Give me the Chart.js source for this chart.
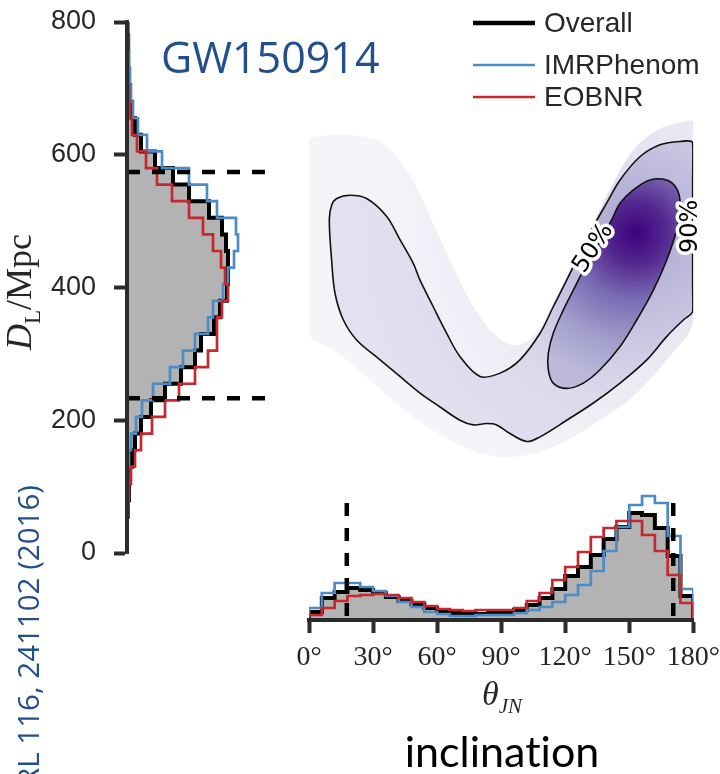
<!DOCTYPE html>
<html>
<head>
<meta charset="utf-8">
<script src="https://cdn.jsdelivr.net/npm/chart.js@4.4.1/dist/chart.umd.min.js"></script>
<style>
  html, body { margin: 0; padding: 0; background: #fff; }
  #page { position: relative; width: 720px; height: 774px; overflow: hidden; background: #fff; }
  canvas { position: absolute; }
  .txt { position: absolute; white-space: nowrap; line-height: 1; }
</style>
</head>
<body>
<div id="page">
  <canvas id="distHist" style="left:0px;top:0px" width="300" height="570"></canvas>
  <canvas id="density" style="left:300px;top:0px" width="420" height="570"></canvas>
  <canvas id="incHist" style="left:280px;top:470px" width="440" height="210"></canvas>

  <div class="txt" style="left:161px;top:27px;font:43px 'Open Sans';color:#23508c">GW150914</div>
  <div class="txt" style="left:22px;top:292px;transform:translate(-50%,-50%) rotate(-90deg);font:36px 'Liberation Serif';color:#262626"><i>D</i><sub style="font-size:23px">L</sub>/Mpc</div>
  <div class="txt" style="left:7px;top:885px;width:400px;text-align:right;transform-origin:top left;transform:rotate(-90deg);font:29.5px 'Open Sans';color:#23508c">PRL 116, 241102 (2016)</div>
  <div class="txt" style="left:502px;top:675px;transform:translateX(-50%);font:italic 34px 'Liberation Serif';color:#262626">&theta;<sub style="font-size:21px">JN</sub></div>
  <div class="txt" style="left:502px;top:725px;transform:translateX(-50%);font:43px Lato;font-variant-ligatures:none;color:#000">inclination</div>
</div>
<script>
// ---- series ----
const seriesNames = ['Overall', 'IMRPhenom', 'EOBNR'];
const seriesColors = ['#000000', '#4b8bc6', '#c7282d'];

// luminosity distance marginal (bin edges in Mpc, bar lengths)
const distEdges = [55, 80, 105, 130, 155, 180, 205, 230, 255, 280, 305, 330, 355, 380, 405,
                   430, 455, 480, 505, 530, 555, 580, 605, 630, 655, 680, 705, 730, 755, 780, 805];
const distOverall = [1, 2, 3, 5, 8, 14, 24, 38, 54, 68, 74, 87, 93, 100, 101,
                     101, 99, 95, 82, 62, 46, 28, 14, 8, 5, 3, 2, 1.5, 1, 0.5];
const distImr = [1, 1, 1.5, 2, 4, 9, 15, 26, 43, 56, 68, 81, 86, 96, 101,
                 107, 111, 109, 90, 80, 62, 35, 20, 11, 6, 4, 3, 2, 1.5, 1];
const distEob = [1, 2, 4, 8, 14, 25, 38, 52, 68, 81, 90, 90, 95, 101, 98,
                 94, 86, 76, 62, 45, 30, 19, 10, 5, 3, 2, 1, 1, 0.5, 0.3];
const distBounds = [233, 574];
const distTicks = [0, 200, 400, 600, 800];

// inclination marginal (degrees)
const incEdges = [0, 6, 12, 18, 24, 30, 36, 42, 48, 54, 60, 66, 72, 78, 84, 90,
                  96, 102, 108, 114, 120, 126, 132, 138, 144, 150, 156, 162, 168, 174, 180];
const incOverall = [8, 22, 28, 32, 30, 27, 23, 19, 16, 12, 9, 7, 7, 6, 7,
                    8, 10, 15, 22, 31, 44, 53, 65, 81, 93, 107, 105, 92, 64, 24];
const incImr = [12, 27, 37, 37, 33, 29, 24, 18, 13, 8, 6, 4, 4, 5, 5,
                5, 7, 10, 13, 18, 25, 35, 49, 69, 93, 115, 124, 117, 84, 31];
const incEob = [5, 12, 19, 24, 25, 26, 25, 22, 18, 14, 11, 10, 9, 10, 10,
                10, 12, 19, 27, 40, 53, 68, 83, 92, 99, 99, 85, 69, 45, 17];
const incBounds = [17.7, 170.6];
const incTicks = [0, 30, 60, 90, 120, 150, 180];

// joint density: [theta, D_L] outlines
const outerRegion = [[0, 625], [11.4, 630], [23.9, 628], [34.8, 617], [45.8, 577], [56.7, 507], [66, 441],
  [77, 371], [86.3, 331], [95.7, 313], [105.1, 326], [114.4, 376], [123.8, 436], [133.2, 497], [142.5, 557],
  [151.9, 607], [162.9, 637], [172.2, 647], [180, 648], [180, 351], [167.5, 291], [151.9, 236], [136.3, 200],
  [120.7, 170], [105.1, 150], [89.5, 145], [73.9, 158], [58.2, 185], [42.6, 220], [27, 266], [11.4, 306],
  [0, 331], [0, 625]];
const contour90 = [[179.7, 490], [179.7, 443], [179.7, 400], [179.7, 364], [175.3, 351], [167.5, 326],
  [158.2, 291], [145.7, 256], [133.2, 226], [120.7, 200], [108.2, 175], [102, 168], [94.1, 180], [87.9, 193],
  [83.2, 195], [77, 193], [70.7, 200], [61.4, 220], [52, 241], [42.6, 266], [33.3, 291], [22.3, 321],
  [16.1, 351], [12.2, 391], [10.6, 441], [9.5, 502], [10.6, 524], [13, 534], [19.2, 539], [27, 534],
  [36.4, 507], [42.6, 472], [48.9, 436], [52, 411], [58.2, 371], [64.5, 331], [70.7, 296], [80.1, 266],
  [89.5, 271], [98.8, 291], [108.2, 331], [114.4, 371], [120.7, 411], [126.9, 452], [133.2, 492],
  [139.4, 527], [145.7, 562], [155, 597], [164.4, 615], [173.8, 620], [179.7, 618], [179.7, 560], [179.7, 490]];
const contour50 = [[141.8, 502], [145.7, 527], [151.9, 547], [159.7, 562], [167.5, 562], [172.2, 549],
  [173.8, 527], [172.2, 487], [167.5, 441], [161.3, 396], [153.5, 351], [145.7, 311], [136.3, 276],
  [128.5, 256], [120.7, 248], [114.4, 256], [112.1, 276], [112.1, 301], [114.4, 331], [119.1, 366],
  [123.8, 396], [127.7, 421], [134.8, 462], [141.8, 502]];
const densityPeak = [153, 482];
const contourLabels = [
  { text: '50%', theta: 133.2, dist: 459, angle: -57 },
  { text: '90%', theta: 178.6, dist: 492, angle: -90 }
];

// ---- helpers ----
function sideSteps(widths) {
  const pts = [{ x: 0, y: distEdges[0] }];
  widths.forEach((w, i) => {
    pts.push({ x: w, y: distEdges[i] }, { x: w, y: distEdges[i + 1] });
  });
  pts.push({ x: 0, y: distEdges[distEdges.length - 1] });
  return pts;
}

// point i sits on the left edge of bin i; stepped 'before' holds it until the next edge
function upSteps(heights) {
  const pts = [{ x: incEdges[0], y: 0 }];
  heights.forEach((h, i) => pts.push({ x: incEdges[i], y: h }));
  pts.push({ x: incEdges[incEdges.length - 1], y: 0 });
  return pts;
}

function toPoints(list) {
  return list.map(p => ({ x: p[0], y: p[1] }));
}

function radialFill(stops, radius) {
  return function (context) {
    const chart = context.chart;
    if (!chart.chartArea) return stops[stops.length - 1][1];
    const cx = chart.scales.x.getPixelForValue(densityPeak[0]);
    const cy = chart.scales.y.getPixelForValue(densityPeak[1]);
    const g = chart.ctx.createRadialGradient(cx, cy, 0, cx, cy, radius);
    stops.forEach(s => g.addColorStop(s[0], s[1]));
    return g;
  };
}

// keep the plot areas where the figure has them: no extra room for overhanging tick labels
function noOverhang(s) {
  s.paddingTop = 0; s.paddingBottom = 0; s.paddingLeft = 0; s.paddingRight = 0;
}

Chart.defaults.font.family = "'Liberation Sans', Arial, sans-serif";
Chart.defaults.animation = false;
Chart.defaults.events = [];
Chart.defaults.plugins.legend.display = false;
Chart.defaults.plugins.tooltip.enabled = false;
Chart.defaults.elements.point.radius = 0;

const axisColor = '#2b2b2b';
const histGray = '#b3b3b3';
const dashed = { borderColor: '#000', borderWidth: 4.5, borderDash: [13, 12], fill: false };

// ---- left marginal: luminosity distance ----
new Chart(document.getElementById('distHist'), {
  type: 'line',
  data: {
    datasets: [
      { label: seriesNames[0], data: sideSteps(distOverall), borderColor: seriesColors[0], borderWidth: 4,
        fill: 'origin', backgroundColor: histGray, order: 4 },
      { label: seriesNames[1], data: sideSteps(distImr), borderColor: seriesColors[1], borderWidth: 2.7, fill: false, order: 3 },
      { label: seriesNames[2], data: sideSteps(distEob), borderColor: seriesColors[2], borderWidth: 2.7, fill: false, order: 2 },
      Object.assign({ data: [{ x: 0, y: distBounds[0] }, { x: 145, y: distBounds[0] }], order: 1 }, dashed),
      Object.assign({ data: [{ x: 0, y: distBounds[1] }, { x: 145, y: distBounds[1] }], order: 1 }, dashed)
    ]
  },
  options: {
    responsive: false,
    indexAxis: 'y',
    layout: { padding: { left: 0, right: 25, top: 22, bottom: 17 } },
    scales: {
      x: { type: 'linear', min: 0, max: 148, display: false },
      y: {
        type: 'linear', position: 'left', min: 0, max: 800,
        afterBuildTicks: s => { s.ticks = distTicks.map(v => ({ value: v })); },
        afterFit: s => { s.width = 127; noOverhang(s); },
        grid: { drawOnChartArea: false, drawTicks: true, tickLength: 13, tickWidth: 4, tickColor: axisColor },
        border: { display: true, width: 4, color: axisColor, z: 1 },
        ticks: { padding: 18, color: '#262626', font: { size: 27 } }
      }
    }
  }
});

// ---- joint density ----
const contourLabelPlugin = {
  id: 'contourLabels',
  afterDatasetsDraw(chart) {
    const { ctx, scales: { x, y } } = chart;
    ctx.save();
    ctx.font = "24px 'DejaVu Sans'";
    ctx.textAlign = 'center';
    ctx.textBaseline = 'middle';
    contourLabels.forEach(l => {
      ctx.save();
      ctx.translate(x.getPixelForValue(l.theta), y.getPixelForValue(l.dist));
      ctx.rotate(l.angle * Math.PI / 180);
      ctx.lineJoin = 'round';
      ctx.lineWidth = 7;
      ctx.strokeStyle = '#fff';
      ctx.strokeText(l.text, 0, 0);
      ctx.fillStyle = '#000';
      ctx.fillText(l.text, 0, 0);
      ctx.restore();
    });
    ctx.restore();
  }
};

const cornerLegend = {
  id: 'cornerLegend',
  afterDraw(chart) {
    const ctx = chart.ctx;
    const rows = [23, 65, 97];
    const widths = [4.5, 2.7, 2.7];
    ctx.save();
    ctx.font = "28px 'Liberation Sans'";
    ctx.textBaseline = 'middle';
    seriesNames.forEach((name, i) => {
      ctx.strokeStyle = seriesColors[i];
      ctx.lineWidth = widths[i];
      ctx.beginPath();
      ctx.moveTo(173, rows[i]);
      ctx.lineTo(235, rows[i]);
      ctx.stroke();
      ctx.fillStyle = '#262626';
      ctx.fillText(name, 244, rows[i] + 1);
    });
    ctx.restore();
  }
};

new Chart(document.getElementById('density'), {
  type: 'scatter',
  data: {
    datasets: [
      { data: toPoints(outerRegion), showLine: true, tension: 0.35, fill: 'shape',
        backgroundColor: radialFill([[0, '#d9d7ea'], [0.5, '#ebeaf4'], [1, '#f5f4f9']], 260),
        borderColor: 'transparent', borderWidth: 1, order: 3 },
      { data: toPoints(contour90), showLine: true, tension: 0.35, fill: 'shape',
        backgroundColor: radialFill([[0, '#a9a4cf'], [0.3, '#c4c1df'], [0.6, '#dbdaeb'], [1, '#e2e1ef']], 280),
        borderColor: '#111', borderWidth: 1.6, order: 2 },
      { data: toPoints(contour50), showLine: true, tension: 0.35, fill: 'shape',
        backgroundColor: radialFill([[0, '#3f007d'], [0.2, '#54278f'], [0.45, '#7b6db4'], [0.75, '#a4a0cc'], [1, '#bcb9db']], 150),
        borderColor: '#111', borderWidth: 1.6, order: 1 }
    ]
  },
  options: {
    responsive: false,
    layout: { padding: { left: 9, right: 26.7, top: 22, bottom: 17 } },
    scales: {
      x: { type: 'linear', min: 0, max: 180, display: false },
      y: { type: 'linear', min: 0, max: 800, display: false }
    }
  },
  plugins: [contourLabelPlugin, cornerLegend]
});

// ---- bottom marginal: inclination ----
new Chart(document.getElementById('incHist'), {
  type: 'scatter',
  data: {
    datasets: [
      { label: seriesNames[0], data: upSteps(incOverall), showLine: true, stepped: 'before',
        borderColor: seriesColors[0], borderWidth: 4, fill: 'origin', backgroundColor: histGray, order: 4 },
      { label: seriesNames[1], data: upSteps(incImr), showLine: true, stepped: 'before',
        borderColor: seriesColors[1], borderWidth: 2.7, fill: false, order: 3 },
      { label: seriesNames[2], data: upSteps(incEob), showLine: true, stepped: 'before',
        borderColor: seriesColors[2], borderWidth: 2.7, fill: false, order: 2 },
      Object.assign({ data: [{ x: incBounds[0], y: 117 }, { x: incBounds[0], y: 0 }], showLine: true, order: 1 }, dashed),
      Object.assign({ data: [{ x: incBounds[1], y: 117 }, { x: incBounds[1], y: 0 }], showLine: true, order: 1 }, dashed)
    ]
  },
  options: {
    responsive: false,
    layout: { padding: { left: 29, right: 26.7, top: 20, bottom: 0 } },
    scales: {
      x: {
        type: 'linear', position: 'bottom', min: 0, max: 180,
        afterBuildTicks: s => { s.ticks = incTicks.map(v => ({ value: v })); },
        afterFit: s => { s.height = 60; noOverhang(s); },
        grid: { drawOnChartArea: false, drawTicks: true, tickLength: 13, tickWidth: 4, tickColor: axisColor },
        border: { display: true, width: 4, color: axisColor, z: 1 },
        ticks: { padding: 8, maxRotation: 0, autoSkip: false, color: '#262626',
                 font: { family: "'Liberation Serif', serif", size: 28 },
                 callback: v => v + '°' }
      },
      y: { type: 'linear', min: 0, max: 130, display: false }
    }
  }
});
</script>
</body>
</html>
